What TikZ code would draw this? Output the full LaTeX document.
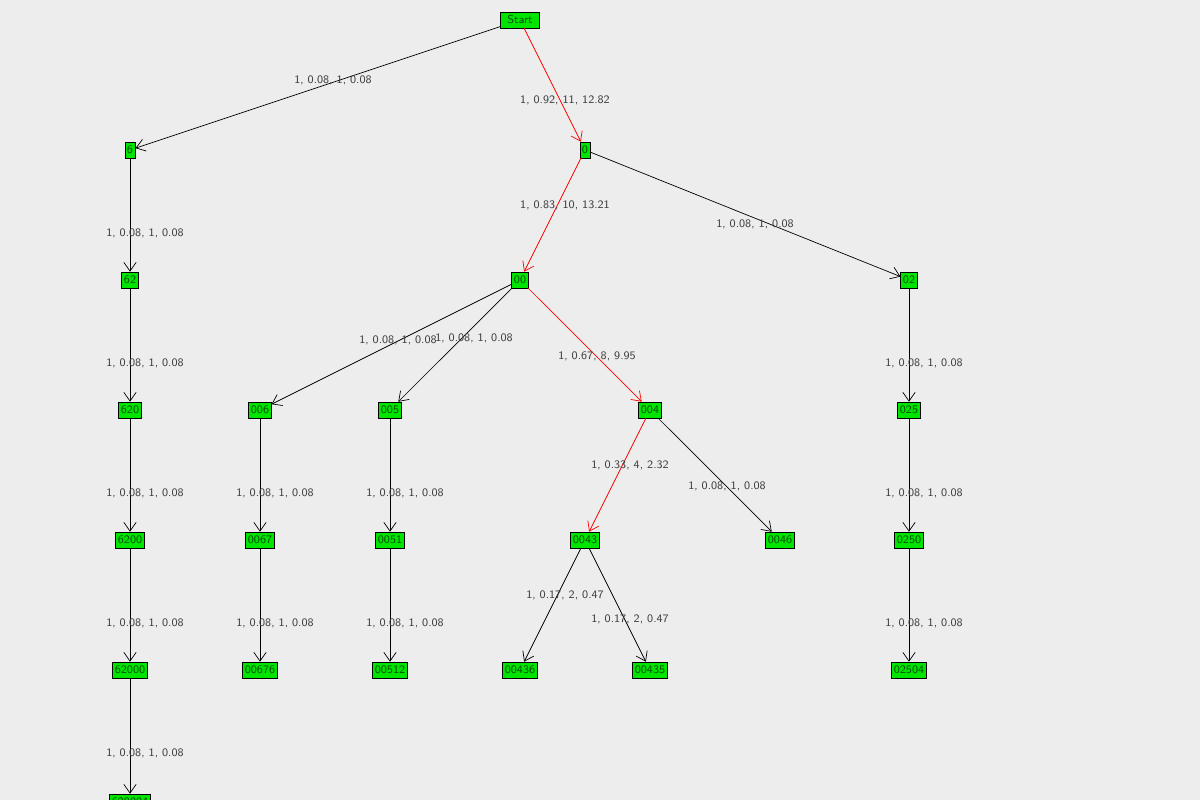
\documentclass[tikz,border=0pt]{standalone}
\usetikzlibrary{arrows.meta}
\begin{document}
\begin{tikzpicture}[x=0.02cm,y=-0.02cm,font=\fontsize{6.5}{7}\sffamily]
\tikzset{state/.style={draw=black,fill=green!90!black,inner sep=1.2pt,minimum height=9pt,text=black!70!green},
lbl/.style={text=black!75,inner sep=0pt},
edge/.style={draw=black,-{Straight Barb[length=5pt,width=7pt]}},
hot/.style={edge,draw=red}}
\fill [black!7] (0,0) rectangle (1200,800);
\useasboundingbox (0,0) rectangle (1200,800);
\node [state,minimum width=22pt] (start) at (520,20) {Start};
\node [state] (n6) at (130,150) {6};
\node [state] (n0) at (585,150) {0};
\node [state] (n62) at (130,280) {62};
\node [state] (n00) at (520,280) {00};
\node [state] (n02) at (909,280) {02};
\node [state] (n620) at (130,410) {620};
\node [state] (n006) at (260,410) {006};
\node [state] (n005) at (390,410) {005};
\node [state] (n004) at (650,410) {004};
\node [state] (n025) at (909,410) {025};
\node [state] (n6200) at (130,540) {6200};
\node [state] (n0067) at (260,540) {0067};
\node [state] (n0051) at (390,540) {0051};
\node [state] (n0043) at (585,540) {0043};
\node [state] (n0046) at (780,540) {0046};
\node [state] (n0250) at (909,540) {0250};
\node [state] (n62000) at (130,670) {62000};
\node [state] (n00676) at (260,670) {00676};
\node [state] (n00512) at (390,670) {00512};
\node [state] (n00436) at (520,670) {00436};
\node [state] (n00435) at (650,670) {00435};
\node [state] (n02504) at (909,670) {02504};
\node [state] (n620004) at (130,802) {620004};
% edges
\draw [edge] (start) -- (n6);
\draw [hot] (start) -- (n0);
\draw [hot] (n0) -- (n00);
\draw [edge] (n0) -- (n02);
\draw [edge] (n6) -- (n62);
\draw [edge] (n62) -- (n620);
\draw [edge] (n620) -- (n6200);
\draw [edge] (n6200) -- (n62000);
\draw [edge] (n62000) -- (n620004);
\draw [edge] (n00) -- (n006);
\draw [edge] (n00) -- (n005);
\draw [hot] (n00) -- (n004);
\draw [edge] (n02) -- (n025);
\draw [edge] (n006) -- (n0067);
\draw [edge] (n005) -- (n0051);
\draw [hot] (n004) -- (n0043);
\draw [edge] (n004) -- (n0046);
\draw [edge] (n025) -- (n0250);
\draw [edge] (n0067) -- (n00676);
\draw [edge] (n0051) -- (n00512);
\draw [edge] (n0043) -- (n00436);
\draw [edge] (n0043) -- (n00435);
\draw [edge] (n0250) -- (n02504);
% labels
\node [lbl] (l1) at (333,80) {1, 0.08, 1, 0.08};
\node [lbl] (l2) at (565,100) {1, 0.92, 11, 12.82};
\node [lbl] (l3) at (565,205) {1, 0.83, 10, 13.21};
\node [lbl] (l4) at (755,224) {1, 0.08, 1, 0.08};
\node [lbl] (l5) at (145,233) {1, 0.08, 1, 0.08};
\node [lbl] (l6) at (145,363) {1, 0.08, 1, 0.08};
\node [lbl] (l7) at (145,493) {1, 0.08, 1, 0.08};
\node [lbl] (l8) at (145,623) {1, 0.08, 1, 0.08};
\node [lbl] (l9) at (145,753) {1, 0.08, 1, 0.08};
\node [lbl] (l10) at (398,340) {1, 0.08, 1, 0.08};
\node [lbl] (l11) at (474,338) {1, 0.08, 1, 0.08};
\node [lbl] (l12) at (597,356) {1, 0.67, 8, 9.95};
\node [lbl] (l13) at (924,363) {1, 0.08, 1, 0.08};
\node [lbl] (l14) at (275,493) {1, 0.08, 1, 0.08};
\node [lbl] (l15) at (405,493) {1, 0.08, 1, 0.08};
\node [lbl] (l16) at (630,465) {1, 0.33, 4, 2.32};
\node [lbl] (l17) at (727,486) {1, 0.08, 1, 0.08};
\node [lbl] (l18) at (924,493) {1, 0.08, 1, 0.08};
\node [lbl] (l19) at (275,623) {1, 0.08, 1, 0.08};
\node [lbl] (l20) at (405,623) {1, 0.08, 1, 0.08};
\node [lbl] (l21) at (565,595) {1, 0.17, 2, 0.47};
\node [lbl] (l22) at (630,619) {1, 0.17, 2, 0.47};
\node [lbl] (l23) at (924,623) {1, 0.08, 1, 0.08};
\end{tikzpicture}
\end{document}
